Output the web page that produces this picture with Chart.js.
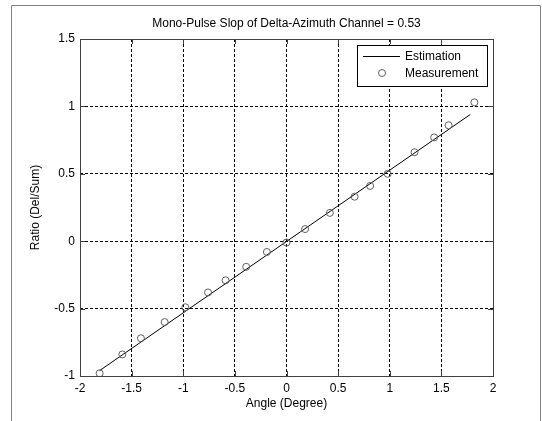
<!DOCTYPE html>
<html>
<head>
<meta charset="utf-8">
<script src="https://cdn.jsdelivr.net/npm/chart.js@4/dist/chart.umd.min.js"></script>
<style>
  html, body { margin: 0; padding: 0; background: #fff; }
  canvas { display: block; }
</style>
</head>
<body>
<canvas id="c" width="542" height="421"></canvas>
<script>
// Measured ratio vs. angle
const measAngle = [-1.81, -1.59, -1.41, -1.18, -0.98, -0.76, -0.59, -0.39, -0.19, 0.00,
                   0.18, 0.42, 0.66, 0.81, 0.98, 1.24, 1.43, 1.57, 1.82];
const measRatio = [-0.98, -0.84, -0.72, -0.60, -0.49, -0.38, -0.29, -0.19, -0.08, -0.01,
                   0.09, 0.21, 0.33, 0.41, 0.50, 0.66, 0.77, 0.86, 1.03];

// Fitted line end points (slope 0.53)
const estAngle = [-1.81, 1.78];
const estRatio = [-0.96, 0.94];

const xTicks = [-2, -1.5, -1, -0.5, 0, 0.5, 1, 1.5, 2];
const yTicks = [-1, -0.5, 0, 0.5, 1, 1.5];

const titleText = 'Mono-Pulse Slop of Delta-Azimuth Channel = 0.53';
const xTitle = 'Angle (Degree)';
const yTitle = 'Ratio (Del/Sum)';
const seriesNames = ['Estimation', 'Measurement'];

const FONT = '"Liberation Sans", Arial, sans-serif';
const AXIS = '#404040';

const framePlugin = {
  id: 'frame',
  beforeDraw(chart) {
    const ctx = chart.ctx;
    ctx.save();
    ctx.fillStyle = '#fff';
    ctx.fillRect(0, 0, chart.width, chart.height);
    // outer figure border
    ctx.strokeStyle = '#808080';
    ctx.lineWidth = 1;
    ctx.beginPath();
    ctx.moveTo(11.5, chart.height);
    ctx.lineTo(11.5, 5.5);
    ctx.lineTo(540.5, 5.5);
    ctx.lineTo(540.5, chart.height);
    ctx.stroke();
    ctx.restore();
  },
  afterDraw(chart) {
    const ctx = chart.ctx;
    const a = chart.chartArea;
    const xs = chart.scales.x, ys = chart.scales.y;
    ctx.save();
    // axes box
    ctx.strokeStyle = AXIS;
    ctx.lineWidth = 1;
    ctx.strokeRect(Math.round(a.left) + 0.5, Math.round(a.top) + 0.5,
                   Math.round(a.right - a.left), Math.round(a.bottom - a.top));
    // inward tick marks on all four sides
    const tl = 5;
    ctx.beginPath();
    xTicks.forEach(v => {
      const px = Math.round(xs.getPixelForValue(v)) + 0.5;
      ctx.moveTo(px, a.bottom); ctx.lineTo(px, a.bottom - tl);
      ctx.moveTo(px, a.top); ctx.lineTo(px, a.top + tl);
    });
    yTicks.forEach(v => {
      const py = Math.round(ys.getPixelForValue(v)) + 0.5;
      ctx.moveTo(a.left, py); ctx.lineTo(a.left + tl, py);
      ctx.moveTo(a.right, py); ctx.lineTo(a.right - tl, py);
    });
    ctx.stroke();

    // title
    ctx.fillStyle = '#000';
    ctx.font = '12px ' + FONT;
    ctx.textAlign = 'center';
    ctx.textBaseline = 'middle';
    ctx.fillText(titleText, (a.left + a.right) / 2, 24);

    // legend
    const lx = 357.5, ly = 45.5, lw = 130, lh = 41;
    ctx.fillStyle = '#fff';
    ctx.fillRect(lx, ly, lw, lh);
    ctx.strokeStyle = '#000';
    ctx.strokeRect(lx, ly, lw, lh);
    const est = chart.data.datasets[0], meas = chart.data.datasets[1];
    ctx.strokeStyle = est.borderColor;
    ctx.beginPath();
    ctx.moveTo(363, 56.5); ctx.lineTo(400, 56.5);
    ctx.stroke();
    ctx.strokeStyle = meas.borderColor;
    ctx.beginPath();
    ctx.arc(382, 73, meas.pointRadius, 0, Math.PI * 2);
    ctx.stroke();
    ctx.fillStyle = '#000';
    ctx.textAlign = 'left';
    ctx.fillText(seriesNames[0], 405, 56.5);
    ctx.fillText(seriesNames[1], 405, 73.5);
    ctx.restore();
  }
};

const plainLabel = v => String(v);

new Chart(document.getElementById('c'), {
  type: 'scatter',
  data: {
    datasets: [
      {
        label: seriesNames[0],
        data: estAngle.map((x, i) => ({ x, y: estRatio[i] })),
        showLine: true,
        borderColor: '#000',
        borderWidth: 1,
        pointRadius: 0,
        order: 1
      },
      {
        label: seriesNames[1],
        data: measAngle.map((x, i) => ({ x, y: measRatio[i] })),
        showLine: false,
        borderColor: '#606060',
        backgroundColor: 'rgba(0,0,0,0)',
        borderWidth: 1,
        pointRadius: 3.5,
        pointStyle: 'circle',
        order: 0
      }
    ]
  },
  options: {
    responsive: false,
    animation: false,
    devicePixelRatio: 1,
    layout: { padding: { top: 39, right: 49, left: 0, bottom: 0 } },
    plugins: { legend: { display: false }, tooltip: { enabled: false }, title: { display: false } },
    scales: {
      x: {
        type: 'linear',
        min: -2, max: 2,
        afterBuildTicks(scale) { scale.ticks = xTicks.map(v => ({ value: v })); },
        afterFit(scale) { scale.height = 45; },
        ticks: { color: '#000', font: { family: FONT, size: 12 }, padding: 5, maxRotation: 0, callback: plainLabel },
        grid: { color: '#000', lineWidth: 1, drawTicks: false },
        border: { display: false, dash: [3, 2] },
        title: { display: true, text: xTitle, color: '#000', font: { family: FONT, size: 12 }, padding: { top: 0, bottom: 10 } }
      },
      y: {
        type: 'linear',
        min: -1, max: 1.5,
        afterBuildTicks(scale) { scale.ticks = yTicks.map(v => ({ value: v })); },
        afterFit(scale) { scale.width = 80; },
        ticks: { color: '#000', font: { family: FONT, size: 12 }, padding: 5, callback: plainLabel },
        grid: { color: '#000', lineWidth: 1, drawTicks: false },
        border: { display: false, dash: [3, 2] },
        title: { display: true, text: yTitle, color: '#000', font: { family: FONT, size: 12 }, padding: { top: 28, bottom: 0 } }
      }
    }
  },
  plugins: [framePlugin]
});
</script>
</body>
</html>
